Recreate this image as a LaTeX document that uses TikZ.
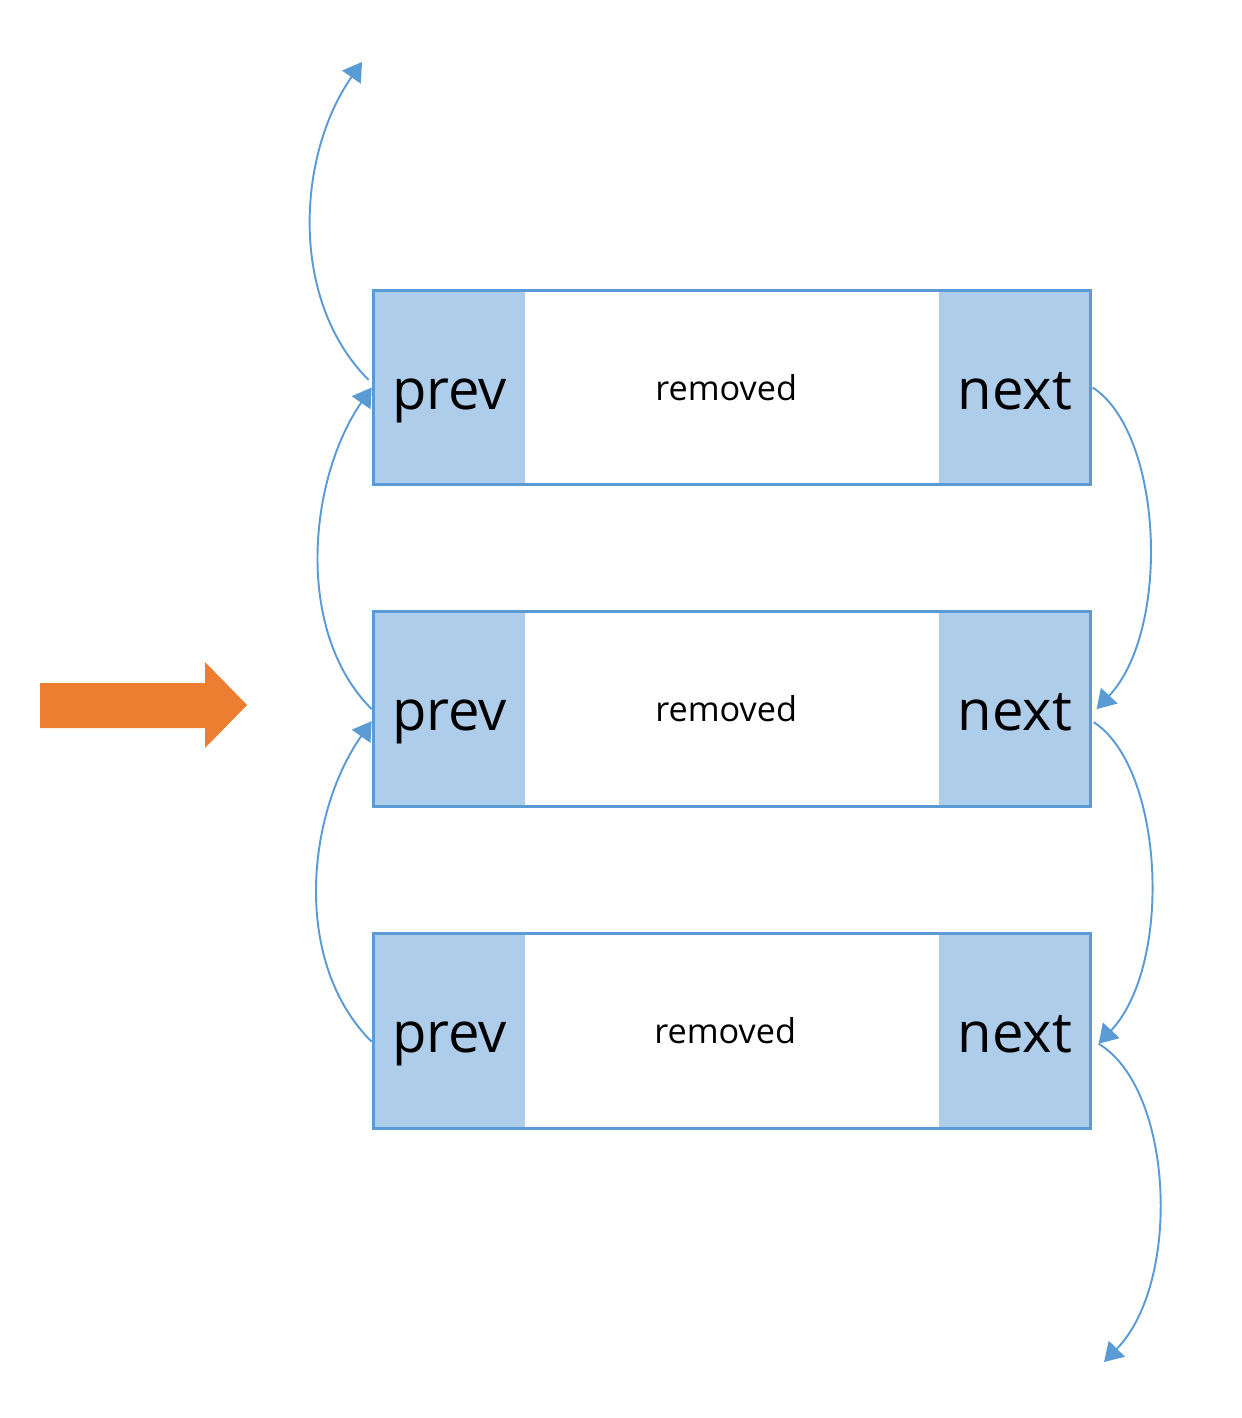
\documentclass[tikz,border=0pt]{standalone}
\usepackage{fontspec}
\setmainfont{Open Sans}
\usepackage{xcolor}
\usetikzlibrary{arrows.meta,positioning}
\definecolor{listblue}{RGB}{91,155,213}
\definecolor{listfill}{RGB}{174,205,234}
\definecolor{listorange}{RGB}{237,125,49}
\tikzset{
  cellbox/.style={
    rectangle,
    fill=listfill,
    minimum width=3.02cm,
    minimum height=3.88cm,
    inner sep=0pt,
    text height=1cm,
    text depth=0.14cm,
    font=\fontsize{32}{38}\selectfont
  },
  bodybox/.style={
    rectangle,
    fill=white,
    minimum width=8.26cm,
    minimum height=3.88cm,
    inner sep=0pt,
    text height=0.55cm,
    text depth=0.05cm,
    font=\fontsize{19.5}{23}\selectfont
  },
  nodeframe/.style={
    draw=listblue,
    line width=1.7pt
  },
  linkarrow/.style={
    -{Triangle[length=0.37cm,width=0.45cm]},
    line width=1.1pt,
    draw=listblue
  }
}

\begin{document}
\begin{tikzpicture}[x=0.02cm,y=-0.02cm]
\useasboundingbox (0,0) rectangle (1242,1418);

\node[cellbox] (prev1) at (449.5,387.5) {prev};
\node[bodybox, right=0pt of prev1] (body1) {removed\hspace*{0.24cm}};
\node[cellbox, right=0pt of body1] (next1) {next};
\draw[nodeframe] (prev1.north west) rectangle (next1.south east);

\node[cellbox, below=2.54cm of prev1] (prev2) {prev};
\node[bodybox, right=0pt of prev2] (body2) {removed\hspace*{0.24cm}};
\node[cellbox, right=0pt of body2] (next2) {next};
\draw[nodeframe] (prev2.north west) rectangle (next2.south east);

\node[cellbox, below=2.54cm of prev2] (prev3) {prev};
\node[bodybox, right=0pt of prev3] (body3) {removed\hspace*{0.28cm}};
\node[cellbox, right=0pt of body3] (next3) {next};
\draw[nodeframe] (prev3.north west) rectangle (next3.south east);

% loose ends
\coordinate (headtop) at (362,62);
\coordinate (tailend) at (1104,1362);
\coordinate (next3in) at ([xshift=0.16cm,yshift=-0.26cm]next3.east);

% prev links
\draw[linkarrow] ([xshift=-0.1cm,yshift=0.15cm]prev1.west) .. controls +(-80,-80) and +(-65,93) .. (headtop);
\draw[linkarrow] ([xshift=-0.04cm]prev2.west) .. controls +(-78,-78) and +(-63,91) .. ([xshift=-0.04cm]prev1.west);
\draw[linkarrow] ([xshift=-0.04cm,yshift=-0.22cm]prev3.west) .. controls +(-80,-80) and +(-65,93) .. ([xshift=-0.04cm,yshift=-0.24cm]prev2.west);

% next links
\draw[linkarrow] ([xshift=0.04cm]next1.east) .. controls +(70,45) and +(75,-80) .. ([xshift=0.12cm]next2.east);
\draw[linkarrow] ([xshift=0.06cm,yshift=-0.26cm]next2.east) .. controls +(70,45) and +(75,-80) .. (next3in);
\draw[linkarrow] (next3in) .. controls +(75,45) and +(78,-80) .. (tailend);

% orange pointer
\fill[listorange] (40,683) -- (205,683) -- (205,662) -- (247,705) -- (205,748) -- (205,728) -- (40,728) -- cycle;
\end{tikzpicture}
\end{document}
